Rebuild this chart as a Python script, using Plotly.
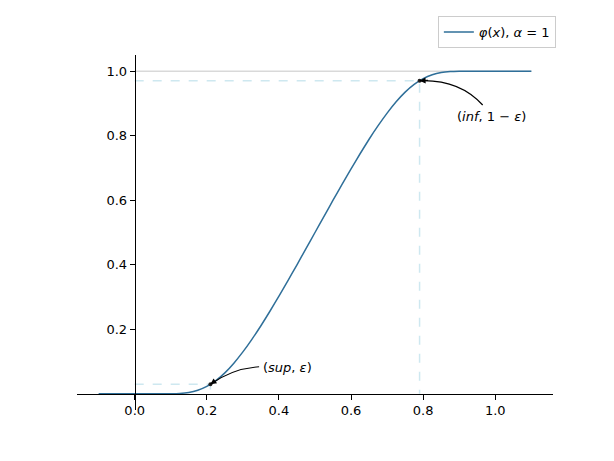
import plotly.graph_objects as go

# curve values
x_vals = [-0.1, -0.05, 0.0, 0.05, 0.1, 0.125, 0.15, 0.175, 0.2, 0.225, 0.25, 0.275, 0.3,
          0.325, 0.35, 0.375, 0.4, 0.425, 0.45, 0.475, 0.5, 0.525, 0.55, 0.575, 0.6,
          0.625, 0.65, 0.675, 0.7, 0.725, 0.75, 0.775, 0.8, 0.825, 0.85, 0.875, 0.9,
          0.95, 1.0, 1.05, 1.1]
y_vals = [0.0, 0.0, 0.0, 0.0, 0.0001, 0.001, 0.004, 0.011, 0.023, 0.041, 0.065, 0.095, 0.130,
          0.169, 0.211, 0.256, 0.303, 0.351, 0.400, 0.450, 0.5, 0.550, 0.600, 0.649, 0.697,
          0.744, 0.789, 0.831, 0.870, 0.905, 0.935, 0.959, 0.977, 0.989, 0.996, 0.999, 0.9999,
          1.0, 1.0, 1.0, 1.0]

sup_x, eps = 0.21, 0.0295
inf_x, one_m_eps = 0.79, 0.9705

# annotation placement (label centre, arrow tail, arrow bend)
sup_label = (0.425, 0.083)
sup_tail = (0.345, 0.084)
sup_bend = (0.27, 0.078)
inf_label = (0.99, 0.86)
inf_tail = (0.965, 0.895)
inf_bend = (0.90, 0.975)

x_ticks = [0.0, 0.2, 0.4, 0.6, 0.8, 1.0]
x_tick_text = ["0.0", "0.2", "0.4", "0.6", "0.8", "1.0"]
y_ticks = [0.2, 0.4, 0.6, 0.8, 1.0]
y_tick_text = ["0.2", "0.4", "0.6", "0.8", "1.0"]

x_range = [-0.16, 1.16]
y_range = [-0.05, 1.05]

FONT = "DejaVu Sans"
BLUE = "#2f6f99"
GUIDE = "rgba(173,216,230,0.6)"

fig = go.Figure()

# reference line at y = 1
fig.add_trace(go.Scatter(x=[0.0, 1.1], y=[1.0, 1.0], mode="lines",
                         line=dict(color="rgba(180,180,180,0.5)", width=1.5),
                         showlegend=False, hoverinfo="skip"))
# dashed guides
fig.add_trace(go.Scatter(x=[0.0, sup_x, sup_x], y=[eps, eps, 0.0], mode="lines",
                         line=dict(color=GUIDE, width=1.5, dash="dash"),
                         showlegend=False, hoverinfo="skip"))
fig.add_trace(go.Scatter(x=[0.0, inf_x, inf_x], y=[one_m_eps, one_m_eps, 0.0], mode="lines",
                         line=dict(color=GUIDE, width=1.5, dash="dash"),
                         showlegend=False, hoverinfo="skip"))

fig.add_trace(go.Scatter(x=x_vals, y=y_vals, mode="lines",
                         line=dict(color=BLUE, width=1.5, shape="spline", smoothing=0.5),
                         name="<i>φ</i>(<i>x</i>), <i>α</i> = 1"))

fig.add_trace(go.Scatter(x=[sup_x, inf_x], y=[eps, one_m_eps], mode="markers",
                         marker=dict(color="#222222", size=4),
                         showlegend=False, hoverinfo="skip"))


def curved_arrow(tail, bend, head, label, text):
    fig.add_shape(type="path", xref="x", yref="y",
                  path=f"M {tail[0]},{tail[1]} Q {bend[0]},{bend[1]} {head[0]},{head[1]}",
                  line=dict(color="black", width=1.2))
    back = (head[0] + 0.25 * (bend[0] - head[0]), head[1] + 0.25 * (bend[1] - head[1]))
    fig.add_annotation(x=head[0], y=head[1], xref="x", yref="y",
                       ax=back[0], ay=back[1], axref="x", ayref="y",
                       text="", showarrow=True, arrowhead=2, arrowsize=1,
                       arrowwidth=1.2, arrowcolor="black")
    fig.add_annotation(x=label[0], y=label[1], xref="x", yref="y", text=text,
                       showarrow=False, font=dict(family=FONT, size=13, color="black"))


curved_arrow(sup_tail, sup_bend, (sup_x, eps), sup_label, "(<i>sup</i>, <i>ε</i>)")
curved_arrow(inf_tail, inf_bend, (inf_x, one_m_eps), inf_label, "(<i>inf</i>, 1 − <i>ε</i>)")

x_zero_frac = (0 - y_range[0]) / (y_range[1] - y_range[0])
y_zero_frac = (0 - x_range[0]) / (x_range[1] - x_range[0])

fig.update_layout(
    width=614, height=461,
    margin=dict(l=77, r=61, t=55, b=51, autoexpand=False),
    plot_bgcolor="white", paper_bgcolor="white",
    font=dict(family=FONT, size=13, color="black"),
    xaxis=dict(range=x_range, tickvals=x_ticks, ticktext=x_tick_text,
               showgrid=False, zeroline=False, showline=True, linecolor="black", linewidth=1,
               ticks="outside", ticklen=5, tickwidth=1, tickcolor="black",
               anchor="free", position=x_zero_frac),
    yaxis=dict(range=y_range, tickvals=y_ticks, ticktext=y_tick_text,
               showgrid=False, zeroline=False, showline=True, linecolor="black", linewidth=1,
               ticks="outside", ticklen=5, tickwidth=1, tickcolor="black",
               anchor="free", position=y_zero_frac),
    legend=dict(x=1.006, y=1.11, xanchor="right", yanchor="top",
                bgcolor="white", bordercolor="#cccccc", borderwidth=1,
                font=dict(family=FONT, size=13)),
    showlegend=True,
)

fig.write_html("out.html", config={"displayModeBar": False},
               post_script="document.body.style.margin='0px';")
